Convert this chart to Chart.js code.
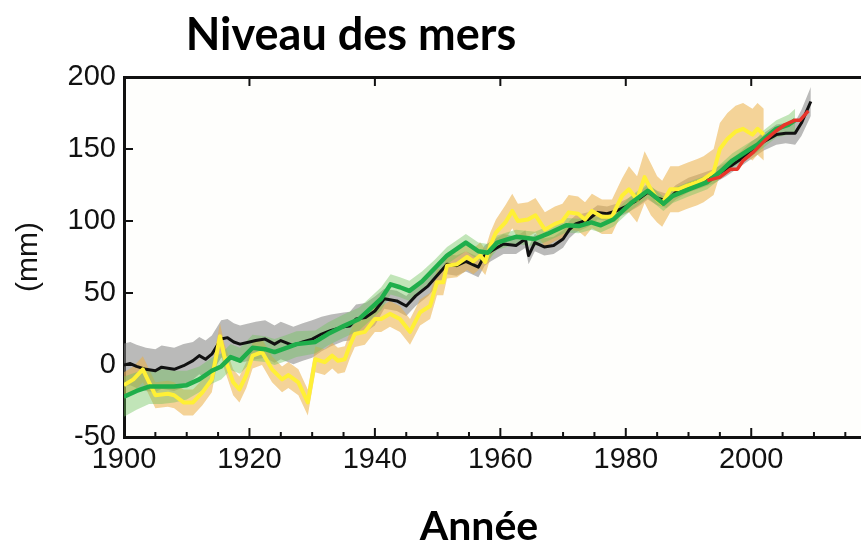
<!DOCTYPE html>
<html>
<head>
<meta charset="utf-8">
<script src="https://cdn.jsdelivr.net/npm/chart.js@4.4.1/dist/chart.umd.min.js"></script>
<style>
  html, body { margin: 0; padding: 0; background: #fff; }
  #wrap { width: 861px; height: 546px; }
</style>
</head>
<body>
<div id="wrap"><canvas id="seaChart" width="861" height="546"></canvas></div>
<script>
// --- data (mm) ---
const xTicks = [1900, 1920, 1940, 1960, 1980, 2000];
const yTicks = [-50, 0, 50, 100, 150, 200];

// black line (gray band)
const blackYears = [1900,1901,1902,1903.5,1905,1906,1908,1909.5,1911,1912,1913,1914,1915.5,1916.5,1917.5,1918.5,1920,1921,1922.5,1924,1925,1927,1928.5,1930,1931.5,1933,1935,1936,1937,1938.5,1940,1941.5,1943.5,1945,1946.5,1948.5,1949.5,1951.5,1953,1954.5,1956.5,1957.5,1958.5,1960.5,1962.5,1964,1964.5,1965.5,1967,1968.5,1970,1971,1972,1974,1975.5,1977,1978.5,1980,1982,1983.5,1985,1986.5,1988,1990,1992,1994,1996,1998,2000,2002,2004,2005.5,2007,2008,2009.5];
const blackMm = [0,1,-1,-3,-4,-1.5,-3,-0.5,3,6.5,4,7.5,18,19,16,14.5,16,17,18,14.5,17,13.5,16,18,21.5,24,26.5,27,32,33,37.5,46,44.5,41,48,55,60,70,69,72,68,76,79,84,83,87.5,76,85,82,83,87.5,94,98,101,106,105,107,110,115,120,116,114,120,125,128,131,136,142,149,155,160,161,161,168,183];
const blackErr = [15,15,15,15,15,15,15,15,13,13,13,13,13,13,13,13,13,13,13,13,13,13,13,13,12,11,10,10,10,10,10,7,7,7,7,7,7,7,7,7,7,7,7,7,6,6,6,6,6,6,6,6,6,5,5,5,5,5,5,5,5,5,5,5,5,5,5,5,6,6,7,7,8,9,10];

// yellow line (orange band)
const yellowYears = [1900,1901.5,1903,1904,1905,1907,1908,1909.5,1911,1912.5,1914,1915.3,1916,1917.4,1918.4,1919.5,1920.5,1922,1923.6,1925.2,1926.2,1927.8,1929.3,1930.5,1932,1933.2,1934.1,1935.2,1936,1936.8,1938.4,1940,1941,1942.4,1944,1945.6,1947.2,1948.8,1949.9,1950.9,1951.5,1953.1,1954.7,1955.7,1956.8,1957.6,1958.4,1959.3,1960.8,1961.9,1962.8,1964.4,1965.6,1967.1,1968.7,1969.9,1970.9,1972.4,1973.5,1974.6,1976.2,1977.8,1979.4,1980.5,1981.8,1983,1984,1985,1985.8,1987.1,1988.4,1989.8,1991.4,1992.4,1994,1995,1996.2,1997.5,1998.7,2000.2,2001,2002];
const yellowMm = [-14,-10,-3,-12,-21,-20,-21,-26,-26,-19,-10,20,6,-12,-17,-7,6.5,9,-3,-10,-7,-12,-26,4,2,6.5,3,4,13.5,21.5,23,32,32,35.5,32,23,36.5,41,57.5,57.5,69,70,75,72,76,71.5,83,92,99,107,100,101,104,94,98,100,106,105,101,107,103,103,117.5,122,115,130.5,122,115,112,122,122,124.5,127,129,134,150,157,162,164,160,164,160];
const yellowErr = [9,9,9,9,9,9,9,9,9,9,9,9,9,9,9,9,9,9,9,9,9,9,9,9,9,9,9,9,9,9,9,9,9,9,9,9,9,9,9,9,9,9,9,9,9,9,9,9,12,12,12,12,12,12,12,12,12,12,12,12,12,12,12,16,16,18,18,16,16,16,16,16,16,16,16,18,18,18,18,18,18,18];

// green line (light green band)
const greenYears = [1900,1902,1904,1906,1908,1910,1912,1914,1915.5,1917,1918.5,1920.5,1922.5,1924,1926,1927.5,1930.5,1932.5,1935,1937.5,1939.5,1941,1942.5,1944,1945.5,1947.5,1949.5,1951.5,1954.5,1956.5,1958,1959.5,1961,1962.5,1965.5,1967.5,1970.5,1972.5,1974.5,1976,1978,1979.5,1981,1983.5,1986,1987.5,1990,1993,1995,1997,1999.5,2001,2002,2004,2006,2007];
const greenMm = [-22,-18,-15,-15,-15,-14,-10,-4,-1,5.5,3,12,11,9,12,14.5,16,21.5,27,32,40,46,56,54,51.5,58,67,76,85,79,78,85,87,89,87.5,91,97,96.5,99,97,101,107,113,121,112,117.5,122,127,134,142,149,153,157,164,167,170];
const greenErr = [14,13,12,12,11,10,9,9,9,9,9,9,9,9,9,9,8,8,8,8,8,8,7,7,7,7,6,6,6,6,6,5,5,5,5,5,5,5,5,5,5,5,5,5,5,5,5,5,5,5,5,5,6,6,7,8];

// red line (satellite)
const redYears = [1993,1995,1996.7,1997.8,1998.7,2000.4,2002.2,2003.8,2005.4,2007,2007.8,2009.1];
const redMm = [128,130.5,136,136,142,148,156,162,167,170,170,176.5];

const pts = (xs, ys) => xs.map((x, i) => ({ x: x, y: ys[i] }));
const shifted = (xs, ys, es, s) => xs.map((x, i) => ({ x: x, y: ys[i] + s * es[i] }));

const lineStyle = (color, width) => ({
    borderColor: color,
    borderWidth: width,
    pointRadius: 0,
    tension: 0,
    fill: false,
    borderJoinStyle: 'round'
});

const bandUpper = color => ({
    borderWidth: 0,
    pointRadius: 0,
    tension: 0,
    backgroundColor: color,
    fill: '+1'
});

const bandLower = () => ({
    borderWidth: 0,
    pointRadius: 0,
    tension: 0,
    fill: false
});

// plot background + frame ticks + title texts
const extras = {
    id: 'extras',
    beforeDraw(chart) {
        const { ctx, chartArea: a } = chart;
        ctx.save();
        ctx.fillStyle = '#fefefc';
        ctx.fillRect(a.left, a.top, a.right - a.left, a.bottom - a.top);
        ctx.restore();
    },
    afterDraw(chart) {
        const { ctx, chartArea: a, scales: { x, y } } = chart;
        ctx.save();
        ctx.strokeStyle = '#111';
        ctx.lineWidth = 2;
        ctx.beginPath();
        for (let yr = 1905; yr < 2017; yr += 5) {
            const px = x.getPixelForValue(yr);
            const major = xTicks.includes(yr);
            const len = major ? 9 : 5;
            ctx.moveTo(px, a.bottom);
            ctx.lineTo(px, a.bottom - len);
            if (major) {
                ctx.moveTo(px, a.top);
                ctx.lineTo(px, a.top + len);
            }
        }
        yTicks.forEach(v => {
            const py = y.getPixelForValue(v);
            ctx.moveTo(a.left, py);
            ctx.lineTo(a.left + 9, py);
        });
        ctx.stroke();

        ctx.fillStyle = '#000';
        ctx.textAlign = 'center';
        ctx.textBaseline = 'alphabetic';
        ctx.font = 'bold 45px Lato';
        ctx.fillText('Niveau des mers', 351, 50);
        ctx.font = 'bold 41px Lato';
        ctx.fillText('Année', 479, 540);
        ctx.restore();
    }
};

const tickFont = { family: "'Liberation Sans', Arial, sans-serif", size: 29 };

new Chart(document.getElementById('seaChart'), {
    type: 'line',
    data: {
        datasets: [
            { label: 'red', data: pts(redYears, redMm), ...lineStyle('#e8352a', 3.5) },
            { label: 'green', data: pts(greenYears, greenMm), ...lineStyle('#1fae4b', 4.5) },
            { label: 'yellow', data: pts(yellowYears, yellowMm), ...lineStyle('#fff035', 4) },
            { label: 'black', data: pts(blackYears, blackMm), ...lineStyle('#111111', 3) },
            { label: 'green+', data: shifted(greenYears, greenMm, greenErr, 1), ...bandUpper('rgba(110, 195, 90, 0.42)') },
            { label: 'green-', data: shifted(greenYears, greenMm, greenErr, -1), ...bandLower() },
            { label: 'yellow+', data: shifted(yellowYears, yellowMm, yellowErr, 1), ...bandUpper('rgba(235, 175, 70, 0.55)') },
            { label: 'yellow-', data: shifted(yellowYears, yellowMm, yellowErr, -1), ...bandLower() },
            { label: 'black+', data: shifted(blackYears, blackMm, blackErr, 1), ...bandUpper('rgba(130, 130, 130, 0.55)') },
            { label: 'black-', data: shifted(blackYears, blackMm, blackErr, -1), ...bandLower() }
        ]
    },
    options: {
        responsive: false,
        animation: false,
        layout: { padding: { top: 77, left: 0, right: 0, bottom: 0 } },
        plugins: {
            legend: { display: false },
            tooltip: { enabled: false },
            title: { display: false }
        },
        scales: {
            x: {
                type: 'linear',
                position: 'bottom',
                min: 1900,
                max: 2017.5,
                afterBuildTicks: s => { s.ticks = xTicks.map(v => ({ value: v })); },
                afterFit: s => { s.height = 109; },
                grid: { display: false, drawTicks: false },
                border: { display: true, color: '#111', width: 3 },
                ticks: { font: tickFont, color: '#111', padding: 6, maxRotation: 0, callback: v => String(v) }
            },
            x2: {
                type: 'linear',
                position: 'top',
                min: 1900,
                max: 2017.5,
                afterFit: s => { s.height = 0; },
                grid: { display: false, drawTicks: false },
                border: { display: true, color: '#111', width: 3 },
                ticks: { display: false }
            },
            y: {
                min: -50,
                max: 200,
                afterBuildTicks: s => { s.ticks = yTicks.map(v => ({ value: v })); },
                afterFit: s => { s.width = 124; },
                grid: { display: false, drawTicks: false },
                border: { display: true, color: '#111', width: 3 },
                ticks: { font: tickFont, color: '#111', padding: 8 },
                title: {
                    display: true,
                    text: '(mm)',
                    font: { family: "'Liberation Sans', Arial, sans-serif", size: 30 },
                    color: '#111',
                    padding: { top: 11, bottom: 0 }
                }
            }
        }
    },
    plugins: [extras]
});
</script>
</body>
</html>
